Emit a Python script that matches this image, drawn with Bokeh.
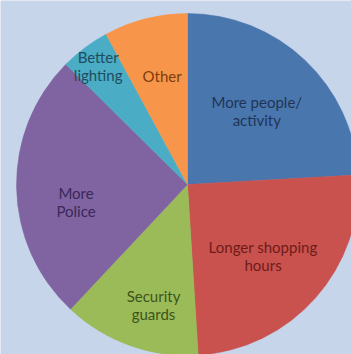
import numpy as np
from bokeh.plotting import figure
from bokeh.models import ColumnDataSource, Range1d
from bokeh.core.properties import value
from bokeh.embed import file_html
from bokeh.resources import INLINE

# ---- data ----
categories = ["More people/\nactivity", "Longer shopping\nhours", "Security\nguards",
              "More\nPolice", "Better\nlighting", "Other"]
shares = [24.1, 24.9, 13.0, 25.4, 4.7, 7.9]

# ---- style ----
fill_colors = ["#4a76ae", "#c9524e", "#9bbb59", "#8064a2", "#4bacc6", "#f7964a"]
text_colors = ["#1e3557", "#6e1c19", "#3d5419", "#3a2858", "#1f4d5c", "#7a3e10"]
label_radius_frac = [0.59, 0.61, 0.73, 0.66, 0.87, 0.65]
label_angle_nudge_deg = [0, 2, -4, -8, 0, 1]
bg = "#c7d5ea"

W, H = 351, 354
cx, cy, R = 187, 170, 171

vals = np.array(shares, dtype=float)
frac = vals / vals.sum()
cum_end = np.cumsum(frac)
cum_start = cum_end - frac
# clockwise from 12 o'clock
start_angle = np.pi / 2 - cum_end * 2 * np.pi
end_angle = np.pi / 2 - cum_start * 2 * np.pi
mid_theta = (cum_start + cum_end) / 2 * 2 * np.pi + np.radians(label_angle_nudge_deg)  # clockwise from top
lr = np.array(label_radius_frac) * R
lx = cx + lr * np.sin(mid_theta)
ly = cy + lr * np.cos(mid_theta)

src = ColumnDataSource(dict(start=start_angle, end=end_angle, color=fill_colors,
                            label=categories, lx=lx, ly=ly, tcolor=text_colors))

p = figure(width=W, height=H, output_backend="svg", toolbar_location=None,
           x_range=Range1d(0, W), y_range=Range1d(0, H), min_border=0)
p.axis.visible = False
p.grid.visible = False
p.outline_line_color = None
p.background_fill_color = bg
p.border_fill_color = bg

p.wedge(x=cx, y=cy, radius=R, start_angle="start", end_angle="end",
        fill_color="color", line_color="color", line_width=0.5, source=src)

p.text(x="lx", y="ly", text="label", source=src, text_color="tcolor",
       text_font=value("Lato"), text_font_size="15px", text_align="center",
       text_baseline="middle", text_line_height=1.0)

open("out.html", "w").write(file_html(p, INLINE))
